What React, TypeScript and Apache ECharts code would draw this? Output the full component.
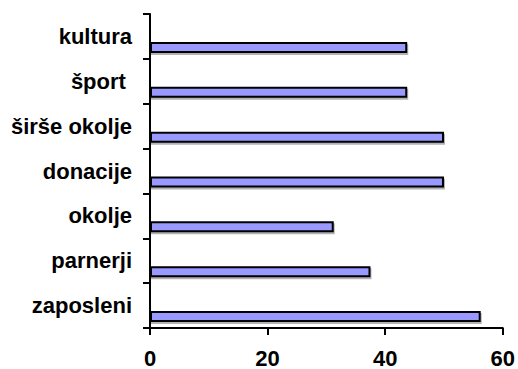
import React, { useEffect, useRef } from "react";
import * as echarts from "echarts";

const categories = ["zaposleni", "parnerji", "okolje", "donacije", "širše okolje", "šport ", "kultura"];
const values = [56.25, 37.5, 31.25, 50, 50, 43.75, 43.75];
const spacer = categories.map(() => "-");
const xMin = 0;
const xMax = 60;
const xInterval = 20;

export default function App() {
  const ref = useRef<HTMLDivElement>(null);
  useEffect(() => {
    if (!ref.current) return;
    const chart = echarts.init(ref.current, null, { renderer: "svg" });
    const font = "'Liberation Sans', Arial, sans-serif";
    chart.setOption({
      animation: false,
      backgroundColor: "#ffffff",
      grid: { left: 150, right: 13, top: 14, bottom: 41, containLabel: false },
      xAxis: {
        type: "value",
        min: xMin,
        max: xMax,
        interval: xInterval,
        splitLine: { show: false },
        axisLine: { show: true, lineStyle: { color: "#000", width: 2 } },
        axisTick: { show: true, length: 7, lineStyle: { color: "#000", width: 2 } },
        axisLabel: { color: "#000", fontSize: 22, fontWeight: "bold", fontFamily: font, margin: 19 },
      },
      yAxis: {
        type: "category",
        data: categories,
        axisLine: { show: true, lineStyle: { color: "#000", width: 2 } },
        axisTick: { show: true, length: 7, lineStyle: { color: "#000", width: 2 } },
        axisLabel: { color: "#000", fontSize: 22, fontWeight: "bold", fontFamily: font, margin: 18 },
      },
      series: [
        {
          type: "bar",
          data: spacer,
          barWidth: 11,
          barGap: "100%",
          silent: true,
        },
        {
          type: "bar",
          data: values,
          barWidth: 11,
          barGap: "100%",
          itemStyle: {
            color: "#9999ff",
            borderColor: "#000",
            borderWidth: 2,
            shadowColor: "rgba(0,0,0,0.3)",
            shadowOffsetX: 1,
            shadowOffsetY: 2,
            shadowBlur: 0,
          },
        },
      ],
    });
    return () => chart.dispose();
  }, []);
  return <div ref={ref} style={{ width: 518, height: 369, position: "absolute", left: 0, top: 0 }} />;
}
